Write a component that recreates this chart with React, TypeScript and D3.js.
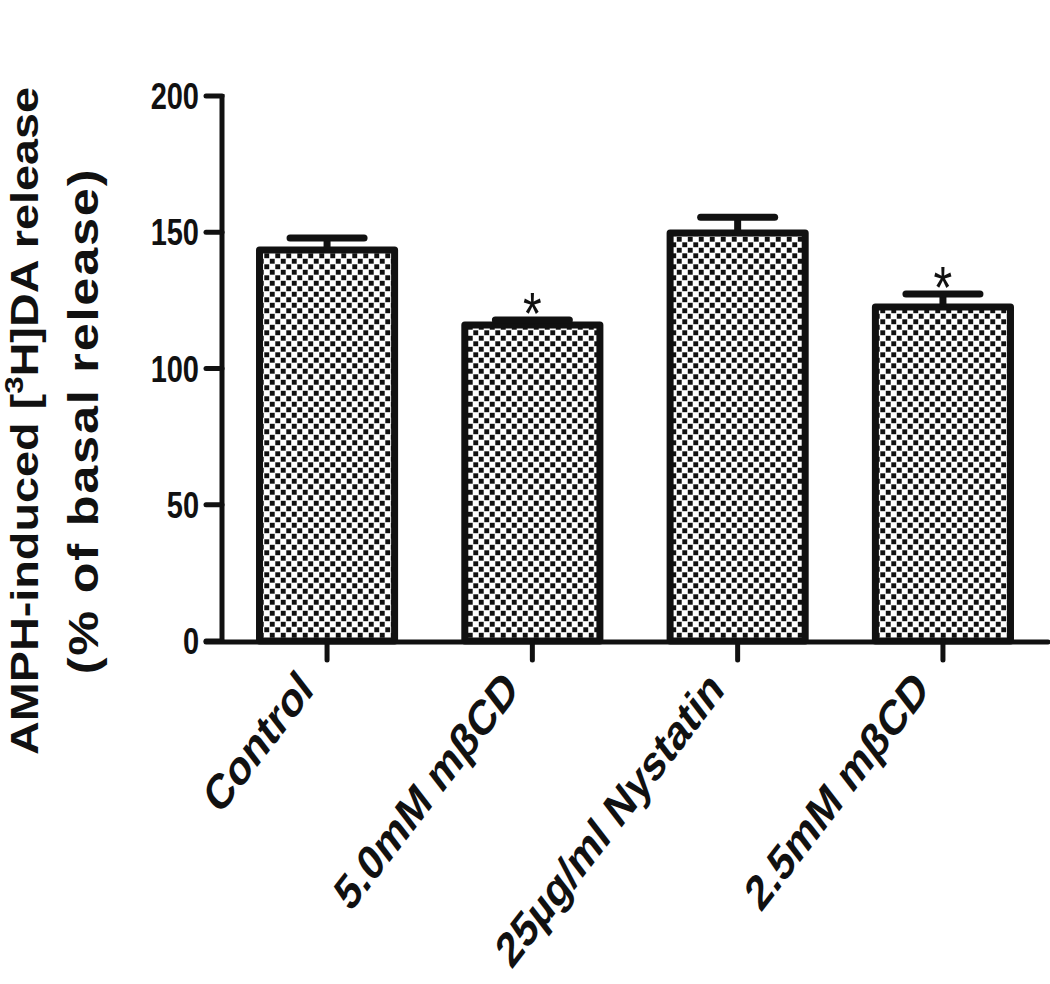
import React, { useEffect, useRef } from 'react';
import * as d3 from 'd3';

const categories = ['Control', '5.0mM mβCD', '25µg/ml Nystatin', '2.5mM mβCD'];
const means = [143.5, 116, 149.7, 122.6];
const sems = [4.4, 1.8, 5.8, 4.7];
const significant = [false, true, false, true];
const yTicks = [0, 50, 100, 150, 200];

const FONT = '"Liberation Sans", Arial, Helvetica, sans-serif';
const STRETCH = 1.25; // the source picture is taller than it is wide

const App = () => {
  const ref = useRef<SVGSVGElement>(null);

  useEffect(() => {
    document.body.style.margin = '0';
    drawChart();
  }, []);

  const drawChart = () => {
    const svg = d3.select(ref.current);
    svg.selectAll('*').remove();

    const axisX = 222;
    const yScale = d3.scaleLinear().domain([0, 200]).range([641, 96]);
    const xScale = d3
      .scaleBand<string>()
      .domain(categories)
      .range([224, 1046])
      .paddingInner(0.342)
      .paddingOuter(0.173);

    const defs = svg.append('defs');
    const pat = defs
      .append('pattern')
      .attr('id', 'checker')
      .attr('patternUnits', 'userSpaceOnUse')
      .attr('width', 11)
      .attr('height', 11);
    pat.append('rect').attr('width', 11).attr('height', 11).attr('fill', '#fff');
    pat.append('rect').attr('x', 0.3).attr('y', 0.3).attr('width', 4.9).attr('height', 4.9).attr('fill', '#111');
    pat.append('rect').attr('x', 5.8).attr('y', 5.8).attr('width', 4.9).attr('height', 4.9).attr('fill', '#111');

    svg.append('rect').attr('width', 1050).attr('height', 984).attr('fill', '#fff');

    // bars
    const bars = svg.append('g');
    categories.forEach((c, i) => {
      bars
        .append('rect')
        .attr('x', xScale(c)!)
        .attr('y', yScale(means[i]))
        .attr('width', xScale.bandwidth())
        .attr('height', yScale(0) - yScale(means[i]))
        .attr('fill', 'url(#checker)')
        .attr('stroke', '#111')
        .attr('stroke-width', 7)
        .attr('stroke-linejoin', 'round');
    });

    // error bars (upper only)
    const errs = svg.append('g').attr('stroke', '#111').attr('stroke-width', 7).attr('stroke-linecap', 'round');
    categories.forEach((c, i) => {
      const cx = xScale(c)! + xScale.bandwidth() / 2;
      const top = yScale(means[i] + sems[i]);
      errs.append('line').attr('x1', cx).attr('x2', cx).attr('y1', yScale(means[i])).attr('y2', top).attr('stroke-linecap', 'butt');
      errs.append('line').attr('x1', cx - 37).attr('x2', cx + 37).attr('y1', top).attr('y2', top);
    });

    // significance asterisks
    categories.forEach((c, i) => {
      if (!significant[i]) return;
      const cx = xScale(c)! + xScale.bandwidth() / 2;
      const top = yScale(means[i] + sems[i]);
      svg
        .append('g')
        .attr('transform', `translate(${cx},${top + 14}) scale(1,${STRETCH})`)
        .append('text')
        .attr('text-anchor', 'middle')
        .attr('font-family', FONT)
        .attr('font-size', 48)
        .attr('fill', '#111')
        .text('*');
    });

    // y axis
    const yAxis = svg.append('g').attr('stroke', '#111').attr('stroke-width', 5);
    yAxis.append('line').attr('x1', axisX).attr('x2', axisX).attr('y1', yScale(200) - 2).attr('y2', yScale(0));
    yTicks.forEach(t => {
      yAxis.append('line').attr('x1', 206).attr('x2', axisX).attr('y1', yScale(t)).attr('y2', yScale(t)).attr('stroke-linecap', 'round');
      svg
        .append('g')
        .attr('transform', `translate(199,${yScale(t)}) scale(1,${STRETCH})`)
        .append('text')
        .attr('text-anchor', 'end')
        .attr('dy', '0.36em')
        .attr('font-family', FONT)
        .attr('font-weight', 'bold')
        .attr('font-size', 29)
        .attr('fill', '#111')
        .text(t);
    });

    // x axis
    const xAxis = svg.append('g').attr('stroke', '#111').attr('stroke-width', 5);
    xAxis.append('line').attr('x1', 206).attr('x2', xScale.range()[1] + 2).attr('y1', yScale(0) + 1).attr('y2', yScale(0) + 1).attr('stroke-linecap', 'round');
    categories.forEach(c => {
      const cx = xScale(c)! + xScale.bandwidth() / 2;
      xAxis.append('line').attr('x1', cx).attr('x2', cx).attr('y1', yScale(0)).attr('y2', yScale(0) + 19).attr('stroke-linecap', 'round');
      svg
        .append('g')
        .attr('transform', `translate(${cx - 12},692) scale(1,1.3) rotate(-45)`)
        .append('text')
        .attr('text-anchor', 'end')
        .attr('font-family', FONT)
        .attr('font-weight', 'bold')
        .attr('font-size', 38)
        .attr('fill', '#111')
        .text(c);
    });

    // y title
    const title = svg
      .append('g')
      .attr('transform', `translate(38,421) scale(1,1.2) rotate(-90)`)
      .attr('font-family', FONT)
      .attr('font-weight', 'bold')
      .attr('font-size', 39)
      .attr('fill', '#111')
      .attr('text-anchor', 'middle');
    const line1 = title.append('text').attr('x', 0).attr('y', 0);
    line1.append('tspan').text('AMPH-induced [');
    line1.append('tspan').attr('font-size', 26).attr('dy', -15).text('3');
    line1.append('tspan').attr('dy', 15).text('H]DA release');
    title
      .append('text')
      .attr('x', 0)
      .attr('y', 60)
      .attr('font-size', 42)
      .attr('letter-spacing', 1.5)
      .text('(% of basal release)');
  };

  return <svg ref={ref} width={1050} height={984} style={{ display: 'block' }} />;
};

export default App;
